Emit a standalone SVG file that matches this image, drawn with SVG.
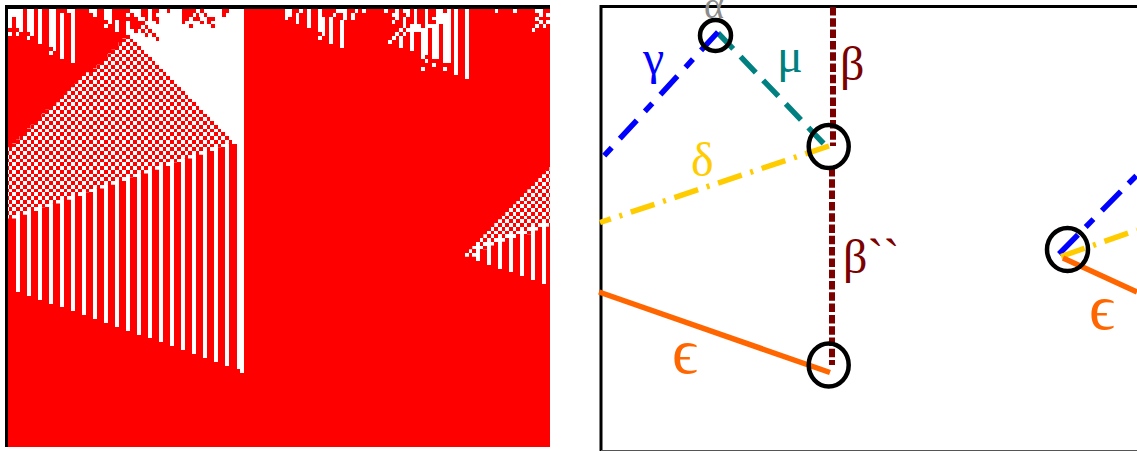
<svg xmlns="http://www.w3.org/2000/svg" width="1137" height="451" viewBox="0 0 1137 451">
<style>
.c{shape-rendering:crispEdges}
.w{fill:#fff}
.r{fill:#f00}
.chk{fill:none;stroke:#fff;stroke-width:3.667;stroke-dasharray:3.75 3.75}
.st{fill:none;stroke:#fff;stroke-width:3.667}
.ln{fill:none;stroke-width:5.5}
.ring{fill:none;stroke:#000;stroke-width:4.5}
.t{font-family:"Liberation Serif","DejaVu Serif",serif;font-size:48px}
</style>
<defs>
<clipPath id="triA"><path class="c" d="M5 151V147.25H8.67
H12.33V143.5H16V139.75H19.67V136H23.33V132.25H27V128.5H30.67V124.75H34.33V121H38V117.25H41.67V113.5H45.33V109.75
H49
H52.67V106H56.33V102.25H60V98.5H63.67V94.75H67.33V91H71V87.25H74.67V83.5H78.33V79.75H82V76H85.67V72.25
H89.33
H93V68.5H96.67V64.75H100.33V61H104V57.25H107.67V53.5H111.33V49.75H115V46H118.67V42.25H122.33V38.5H126V34.75
H129.67
V38.5H133.33V42.25H137V46H140.67V49.75H144.33V53.5H148V57.25H151.67V61H155.33V64.75H159V68.5H162.67V72.25H166.33V76H170V79.75H173.67V83.5H177.33V87.25H181V91H184.67V94.75H188.33V98.5H192V102.25H195.67V106H199.33V109.75H203V113.5H206.67V117.25H210.33V121H214V124.75H217.67V128.5H221.33V132.25H225V136H228.67V139.75H232.33V143.5
H228.67V147.25H217.67V151H206.67V154.75H195.67V158.5H184.67V162.25H173.67V166H162.67V169.75H151.67V173.5H140.67V177.25H129.67V181H118.67V184.75H107.67V188.5H96.67V192.25H85.67V196H74.67V199.75H63.67V203.5H52.67V207.25H41.67V211H30.67V214.75H19.67V218.5H5Z"/></clipPath>
<clipPath id="triB"><path class="c" d="M465 256.75V253H468.67V249.25H472.33V245.5H476V241.75H479.67V238H483.33V234.25H487V230.5H490.67V226.75H494.33V223H498V219.25H501.67V215.5H505.33V211.75H509V208H512.67V204.25H516.33V200.5H520V196.75H523.67V193H527.33V189.25H531V185.5H534.67V181.75H538.33V178H542V174.25H545.67V170.5H549.33V166.75H550V226.75H542V230.5H531V234.25H520V238H509V241.75H498V245.5H487V249.25H476V256.75Z"/></clipPath>
</defs>

<g id="automaton">
<rect class="r c" x="8" y="9" width="542" height="438"/>
<path class="st c" d="M17.83 214.75V291.7M28.83 211V295.7M39.83 207.25V299.7M50.83 203.5V303.7M61.83 199.75V306.7M72.83 196V310.7M83.83 192.25V314.7M94.83 188.5V318.7M105.83 184.75V322.7M116.83 181V326.7M127.83 177.25V330.7M138.83 173.5V334.7M149.83 169.75V337.7M160.83 166V341.7M171.83 162.25V345.7M182.83 158.5V349.7M193.83 154.75V353.7M204.83 151V357.7M215.83 147.25V361.7M226.83 143.5V365.7"/>
<g clip-path="url(#triA)">
<path class="chk c" d="M10.5 8.5v217M17.83 8.5v217M25.17 8.5v217M32.5 8.5v217M39.83 8.5v217M47.17 8.5v217M54.5 8.5v217M61.83 8.5v217M69.17 8.5v217M76.5 8.5v217M83.83 8.5v217M91.17 8.5v217M98.5 8.5v217M105.83 8.5v217M113.17 8.5v217M120.5 8.5v217M127.83 8.5v217M135.17 8.5v217M142.5 8.5v217M149.83 8.5v217M157.17 8.5v217M164.5 8.5v217M171.83 8.5v217M179.17 8.5v217M186.5 8.5v217M193.83 8.5v217M201.17 8.5v217M208.5 8.5v217M215.83 8.5v217M223.17 8.5v217M230.5 8.5v217"/>
<path class="chk c" d="M6.83 12.25v217M14.17 12.25v217M21.5 12.25v217M28.83 12.25v217M36.17 12.25v217M43.5 12.25v217M50.83 12.25v217M58.17 12.25v217M65.5 12.25v217M72.83 12.25v217M80.17 12.25v217M87.5 12.25v217M94.83 12.25v217M102.17 12.25v217M109.5 12.25v217M116.83 12.25v217M124.17 12.25v217M131.5 12.25v217M138.83 12.25v217M146.17 12.25v217M153.5 12.25v217M160.83 12.25v217M168.17 12.25v217M175.5 12.25v217M182.83 12.25v217M190.17 12.25v217M197.5 12.25v217M204.83 12.25v217M212.17 12.25v217M219.5 12.25v217M226.83 12.25v217"/>
</g>
<path class="w c" d="M126 9V34.75H129.67V38.5H133.33V42.25H137V46H140.67V49.75H144.33V53.5H148V57.25H151.67V61H155.33V64.75H159V68.5H162.67V72.25H166.33V76H170V79.75H173.67V83.5H177.33V87.25H181V91H184.67V94.75H188.33V98.5H192V102.25H195.67V106H199.33V109.75H203V113.5H206.67V117.25H210.33V121H214V124.75H217.67V128.5H221.33V132.25H225V136H228.67V139.75H232.33V143.5H237V369H240V373H244V9Z"/>
<g transform="translate(120 5) scale(.33333)">
<path class="r c" d="M18 12h12v12h-12zM63 12h21v24h-21zM96 12h21v12h-21zM141 12h9v12h-9zM186 12h42v12h-42zM240 12h12v12h-12zM306 12h21v12h-21zM30 24h12v12h-12zM96 24h12v24h-12zM186 24h33v12h-33zM228 24h9v12h-9zM252 24h9v12h-9zM306 24h12v12h-12zM18 36h36v12h-36zM75 36h9v12h-9zM108 36h9v12h-9zM186 36h21v12h-21zM219 36h21v12h-21zM261 36h24v12h-24zM30 48h45v12h-45zM108 48h9v9h-9zM186 48h9v9h-9zM240 48h12v9h-12zM261 48h12v9h-12zM30 60h33v12h-33zM75 60h9v12h-9zM207 57h12v12h-12zM273 57h12v12h-12zM42 72h12v12h-12zM63 72h12v12h-12zM84 72h12v12h-12zM75 84h9v12h-9zM96 84h12v12h-12zM108 96h9v12h-9z"/>
</g>
<g transform="scale(.33333)">
<path class="w c" d="M24 27h45v24h-45zM24 51h12v33h-12zM48 51h21v33h-21zM57 84h12v12h-12zM24 96h12v12h-12zM48 96h9v12h-9zM81 27h21v69h-21zM90 96h12v12h-12zM81 108h9v12h-9zM114 27h12v105h-12zM147 27h21v114h-21zM159 141h9v12h-9zM147 153h12v12h-12zM180 39h12v138h-12zM201 27h24v12h-24zM213 39h12v150h-12zM267 27h24v12h-24zM279 39h12v12h-12zM312 27h24v33h-24zM324 60h12v12h-12zM312 72h12v12h-12zM345 60h12v36h-12z"/>
</g>
<g transform="translate(270 0) scale(.33333)">
<path class="w c" d="M45 27h21v24h-21zM45 51h9v9h-9zM78 39h9v33h-9zM87 27h12v12h-12zM111 27h12v57h-12zM144 27h12v69h-12zM156 51h9v45h-9zM156 96h9v12h-9zM144 108h12v12h-12zM177 51h12v81h-12zM198 27h33v12h-33zM219 39h12v21h-12zM210 60h12v84h-12zM189 39h9v12h-9zM243 39h12v21h-12zM255 27h9v12h-9zM276 27h12v12h-12zM675 27h9v12h-9zM729 27h12v12h-12zM795 27h24v12h-24zM807 39h12v12h-12zM795 51h12v12h-12zM828 39h12v12h-12zM807 60h12v12h-12zM828 60h12v12h-12zM795 72h12v12h-12zM819 72h9v12h-9zM786 84h9v12h-9z"/>
</g>
<g transform="translate(380 5) scale(.33333)">
<path class="w c" d="M12 12h12v12h-12zM45 12h12v33h-12zM36 24h9v12h-9zM36 45h9v12h-9zM69 12h21v12h-21zM78 24h12v12h-12zM69 36h9v33h-9zM102 12h9v45h-9zM90 57h33v24h-33zM57 69h12v12h-12zM78 69h12v12h-12zM45 81h12v12h-12zM69 81h9v12h-9zM36 93h12v12h-12zM57 93h12v36h-12zM24 105h12v12h-12zM90 81h12v57h-12zM135 12h9v45h-9zM168 12h45v33h-45zM156 36h57v21h-57zM123 57h90v105h-90zM189 162h24v12h-24zM135 162h9v12h-9zM156 174h12v12h-12zM123 186h12v12h-12zM189 186h12v12h-12zM222 12h12v198h-12zM255 12h12v210h-12z"/>
<path class="r c" d="M144 69h12v93h-12zM177 57h12v117h-12zM123 57h12v12h-12zM156 45h12v12h-12zM189 12h12v12h-12zM144 12h24v24h-24zM135 150h9v12h-9z"/>
</g>
<path class="st c" d="M477.83 245.5V261M488.83 241.75V265M499.83 238V269M510.83 234.25V272M521.83 230.5V276M532.83 226.75V280M543.83 223V284"/>
<g clip-path="url(#triB)">
<path class="chk c" d="M466.83 163v95M474.17 163v95M481.5 163v95M488.83 163v95M496.17 163v95M503.5 163v95M510.83 163v95M518.17 163v95M525.5 163v95M532.83 163v95M540.17 163v95M547.5 163v95"/>
<path class="chk c" d="M470.5 166.75v92M477.83 166.75v92M485.17 166.75v92M492.5 166.75v92M499.83 166.75v92M507.17 166.75v92M514.5 166.75v92M521.83 166.75v92M529.17 166.75v92M536.5 166.75v92M543.83 166.75v92M551.17 166.75v92"/>
</g>
<path class="c" d="M5 447V5H550V9H8V447Z"/>
</g>

<g id="frame">
<path d="M601 451V6.5H1137" fill="none" stroke="#000" stroke-width="3"/>
<path d="M601 450.5H1137" fill="none" stroke="#555" stroke-width="1"/>
</g>

<g id="connectors">
<path id="beta" class="ln" stroke="#7b0000" stroke-dasharray="8.5 2.8" d="M833 7V146" style="stroke-width:6"/>
<path id="beta2" class="ln" stroke="#7b0000" stroke-dasharray="8.5 2.8" d="M832 168V365" style="stroke-width:6"/>
<path id="mu" class="ln" stroke="#008080" stroke-dasharray="22 10.7" d="M718 33L825 145"/>
<path id="gamma" class="ln" stroke="#00f" stroke-dasharray="25 12 11 12" d="M718 32L603 157"/>
<path id="delta" class="ln" stroke="#fc0" stroke-dasharray="25 9 3 9" d="M829 146L600 222.5"/>
<path id="epsilon" class="ln" stroke="#f60" d="M599 292L830 372.5"/>
<path id="gamma-r" class="ln" stroke="#00f" stroke-dasharray="27 11 11 12" d="M1059 254L1137 175"/>
<path id="delta-r" class="ln" stroke="#fc0" stroke-dasharray="25 9 3 9" d="M1061 256.5L1137 230"/>
<path id="epsilon-r" class="ln" stroke="#f60" d="M1063 258L1137 292"/>
</g>

<g id="node-top"><ellipse class="ring" cx="715.5" cy="35.5" rx="15.5" ry="15.5"/></g>
<g id="node-mid"><ellipse class="ring" cx="828.7" cy="146.5" rx="20" ry="21.5"/></g>
<g id="node-low"><ellipse class="ring" cx="828.7" cy="365" rx="20" ry="21.5"/></g>
<g id="node-right"><ellipse class="ring" cx="1067.5" cy="249.5" rx="20.5" ry="21.5"/></g>

<g id="labels">
<text class="t" x="704" y="18" fill="#8c8c8c" style="font-size:38px">α</text>
<text class="t" x="643" y="74" fill="#00f">γ</text>
<text class="t" x="777" y="72" fill="#008080">μ</text>
<text class="t" x="840" y="80" fill="#7b0000">β</text>
<text class="t" x="691" y="176" fill="#fc0">δ</text>
<text class="t" x="843" y="273" fill="#7b0000">β``</text>
<text class="t" x="672" y="373" fill="#f60" style="font-size:64px">ϵ</text>
<text class="t" x="1089" y="329" fill="#f60" style="font-size:64px">ϵ</text>
</g>
</svg>
